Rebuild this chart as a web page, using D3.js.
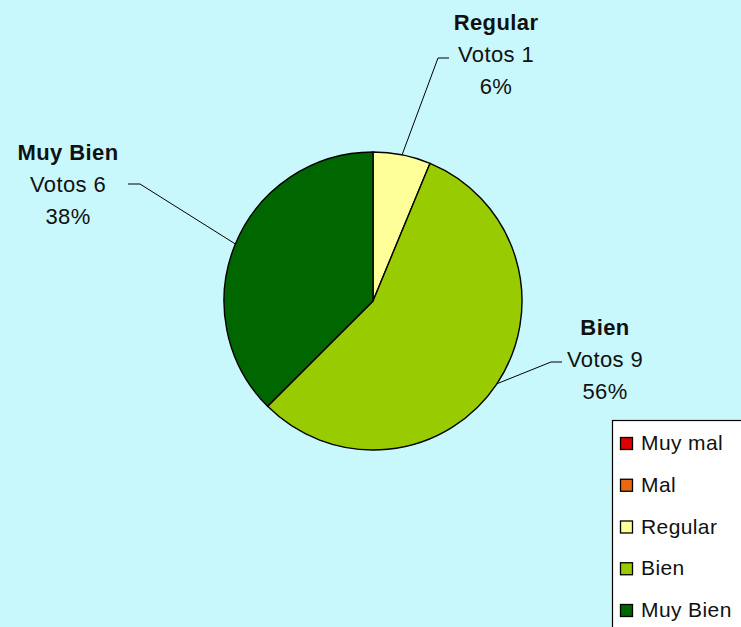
<!DOCTYPE html>
<html>
<head>
  <meta charset="UTF-8">
  <style>
    body { margin: 0; background: #c8f8fc; }
    svg { display: block; }
    text { font-family: "Liberation Sans", Arial, sans-serif; fill: #111; letter-spacing: 0.4px; }
    .slice { stroke: #000; stroke-width: 1.4px; }
    .leader { fill: none; stroke: #000; stroke-width: 1px; }
    .lbl-title { font-weight: bold; }
  </style>
</head>
<body>
  <svg width="741" height="627"></svg>
  <script src="https://cdn.jsdelivr.net/npm/d3@7"></script>
  <script>
    // data
    var categories = ["Muy mal", "Mal", "Regular", "Bien", "Muy Bien"];
    var votes = [0, 0, 1, 9, 6];
    var colors = ["#e00000", "#ec6810", "#ffff99", "#99cc00", "#006600"];

    // where Excel put each data label (text centre, first baseline, elbow, elbow end)
    var labelLayout = {
      "Regular":  {x: 496, y: 30,  elbow: [438, 58],  end: [449, 58]},
      "Bien":     {x: 605, y: 335, elbow: [551, 362], end: [562, 362]},
      "Muy Bien": {x: 68,  y: 160, elbow: [140, 184], end: [128, 184]}
    };

    var svg = d3.select("svg"),
        cx = 373, cy = 301, radius = 149;

    var total = d3.sum(votes);
    var color = d3.scaleOrdinal().domain(categories).range(colors);

    var pie = d3.pie()
        .sort(null)
        .value(function(d) { return d.votes; });

    var arc = d3.arc().innerRadius(0).outerRadius(radius);

    var data = categories.map(function(c, i) { return {cat: c, votes: votes[i]}; });
    var arcs = pie(data).filter(function(d) { return d.data.votes > 0; });

    var g = svg.append("g")
        .attr("transform", "translate(" + cx + "," + cy + ")");

    g.selectAll(".slice")
      .data(arcs)
      .enter().append("path")
        .attr("class", "slice")
        .attr("fill", function(d) { return color(d.data.cat); })
        .attr("d", arc);

    // labels + leader lines
    arcs.forEach(function(d) {
      var L = labelLayout[d.data.cat];
      if (!L) return;
      var a = (d.startAngle + d.endAngle) / 2;
      var px = cx + radius * Math.sin(a),
          py = cy - radius * Math.cos(a);
      svg.append("path")
          .attr("class", "leader")
          .attr("d", d3.line()([[px, py], L.elbow, L.end]));

      var pct = Math.round(d.data.votes / total * 100);
      var lines = [d.data.cat, "Votos " + d.data.votes, pct + "%"];
      svg.selectAll(null)
        .data(lines)
        .enter().append("text")
          .attr("class", function(t, i) { return i === 0 ? "lbl-title" : null; })
          .attr("x", L.x)
          .attr("y", function(t, i) { return L.y + i * 32; })
          .attr("text-anchor", "middle")
          .style("font-size", "22px")
          .text(function(t) { return t; });
    });

    // legend
    var legend = svg.append("g")
        .attr("transform", "translate(612,420)");

    legend.append("rect")
        .attr("x", 0.5)
        .attr("y", 0.5)
        .attr("width", 150)
        .attr("height", 230)
        .attr("fill", "#fff")
        .attr("stroke", "#000")
        .attr("stroke-width", 1.2);

    var item = legend.selectAll(".item")
      .data(categories)
      .enter().append("g")
        .attr("class", "item")
        .attr("transform", function(d, i) { return "translate(8," + (30 + i * 41.75) + ")"; });

    item.append("rect")
        .attr("x", 0.5)
        .attr("y", -12.5)
        .attr("width", 12)
        .attr("height", 12)
        .attr("fill", function(d) { return color(d); })
        .attr("stroke", "#000")
        .attr("stroke-width", 1.3);

    item.append("text")
        .attr("x", 21)
        .attr("y", 0)
        .style("font-size", "21px")
        .text(function(d) { return d; });
  </script>
</body>
</html>
